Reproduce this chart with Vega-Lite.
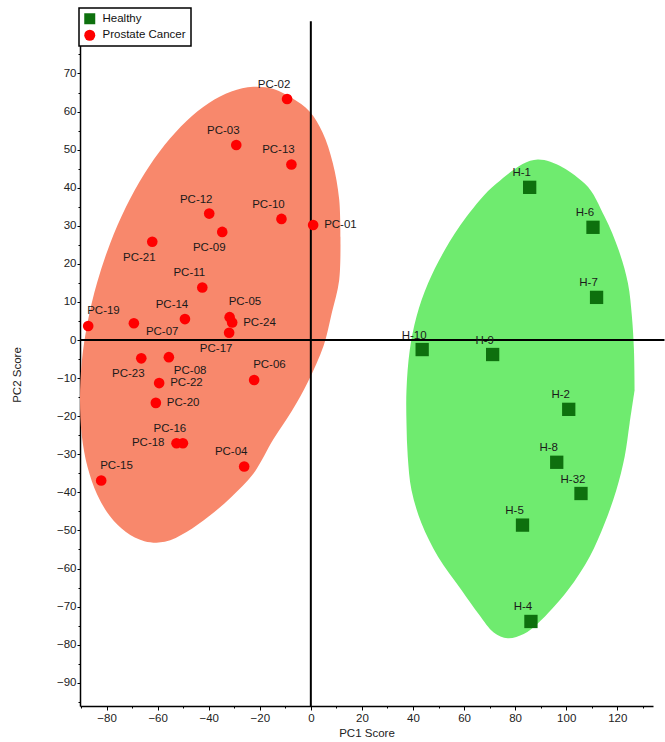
{
  "$schema": "https://vega.github.io/schema/vega-lite/v6.json",
  "width": 573,
  "height": 663,
  "autosize": {"type": "none"},
  "padding": {"left": 80, "top": 43, "right": 12, "bottom": 36},
  "background": "white",
  "config": {
    "view": {"stroke": null},
    "font": "Liberation Sans",
    "axis": {
      "grid": false,
      "domainColor": "#000000",
      "domainWidth": 1.5,
      "tickColor": "#000000",
      "tickWidth": 1,
      "labelFont": "Liberation Sans",
      "labelFontSize": 11.5,
      "labelColor": "#222222",
      "titleFont": "Liberation Sans",
      "titleFontSize": 11.5,
      "titleFontWeight": "normal",
      "titleColor": "#222222"
    },
    "legend": {
      "strokeColor": "#000000",
      "strokeWidth": 1.5,
      "fillColor": "#ffffff",
      "padding": 5,
      "labelFont": "Liberation Sans",
      "labelFontSize": 11.5,
      "labelColor": "#111111",
      "symbolSize": 121,
      "symbolStrokeWidth": 0,
      "symbolOpacity": 1,
      "rowPadding": 3.5,
      "labelOffset": 7
    }
  },
  "datasets": {
    "pts": [
      {"id": "PC-01", "grp": "Prostate Cancer", "pc1": 0.9, "pc2": 30.2, "lab": "r"},
      {"id": "PC-02", "grp": "Prostate Cancer", "pc1": -9.3, "pc2": 63.3, "lab": "al"},
      {"id": "PC-03", "grp": "Prostate Cancer", "pc1": -29.2, "pc2": 51.2, "lab": "al"},
      {"id": "PC-04", "grp": "Prostate Cancer", "pc1": -26.1, "pc2": -33.2, "lab": "al"},
      {"id": "PC-05", "grp": "Prostate Cancer", "pc1": -31.8, "pc2": 6.0, "lab": "ar"},
      {"id": "PC-06", "grp": "Prostate Cancer", "pc1": -22.2, "pc2": -10.5, "lab": "ar"},
      {"id": "PC-07", "grp": "Prostate Cancer", "pc1": -69.3, "pc2": 4.4, "lab": "br"},
      {"id": "PC-08", "grp": "Prostate Cancer", "pc1": -55.6, "pc2": -4.5, "lab": "b"},
      {"id": "PC-09", "grp": "Prostate Cancer", "pc1": -34.7, "pc2": 28.4, "lab": "bl"},
      {"id": "PC-10", "grp": "Prostate Cancer", "pc1": -11.5, "pc2": 31.8, "lab": "al"},
      {"id": "PC-11", "grp": "Prostate Cancer", "pc1": -42.5, "pc2": 13.8, "lab": "al"},
      {"id": "PC-12", "grp": "Prostate Cancer", "pc1": -39.8, "pc2": 33.2, "lab": "al"},
      {"id": "PC-13", "grp": "Prostate Cancer", "pc1": -7.6, "pc2": 46.1, "lab": "al"},
      {"id": "PC-14", "grp": "Prostate Cancer", "pc1": -49.3, "pc2": 5.5, "lab": "al"},
      {"id": "PC-15", "grp": "Prostate Cancer", "pc1": -82.1, "pc2": -36.9, "lab": "ar"},
      {"id": "PC-16", "grp": "Prostate Cancer", "pc1": -50.1, "pc2": -27.1, "lab": "al"},
      {"id": "PC-17", "grp": "Prostate Cancer", "pc1": -32.0, "pc2": 1.9, "lab": "bl"},
      {"id": "PC-18", "grp": "Prostate Cancer", "pc1": -52.6, "pc2": -27.1, "lab": "l"},
      {"id": "PC-19", "grp": "Prostate Cancer", "pc1": -87.2, "pc2": 3.7, "lab": "ar"},
      {"id": "PC-20", "grp": "Prostate Cancer", "pc1": -60.7, "pc2": -16.5, "lab": "r"},
      {"id": "PC-21", "grp": "Prostate Cancer", "pc1": -62.1, "pc2": 25.8, "lab": "bl"},
      {"id": "PC-22", "grp": "Prostate Cancer", "pc1": -59.4, "pc2": -11.3, "lab": "r"},
      {"id": "PC-23", "grp": "Prostate Cancer", "pc1": -66.4, "pc2": -4.8, "lab": "bl"},
      {"id": "PC-24", "grp": "Prostate Cancer", "pc1": -30.8, "pc2": 4.6, "lab": "r"},
      {"id": "H-1", "grp": "Healthy", "pc1": 85.7, "pc2": 40.1, "lab": "ah"},
      {"id": "H-6", "grp": "Healthy", "pc1": 110.5, "pc2": 29.6, "lab": "ah"},
      {"id": "H-7", "grp": "Healthy", "pc1": 111.9, "pc2": 11.2, "lab": "ah"},
      {"id": "H-10", "grp": "Healthy", "pc1": 43.6, "pc2": -2.5, "lab": "ah"},
      {"id": "H-9", "grp": "Healthy", "pc1": 71.2, "pc2": -3.8, "lab": "ah"},
      {"id": "H-2", "grp": "Healthy", "pc1": 101.0, "pc2": -18.2, "lab": "ah"},
      {"id": "H-8", "grp": "Healthy", "pc1": 96.3, "pc2": -32.1, "lab": "ah"},
      {"id": "H-32", "grp": "Healthy", "pc1": 105.8, "pc2": -40.3, "lab": "ah"},
      {"id": "H-5", "grp": "Healthy", "pc1": 82.9, "pc2": -48.6, "lab": "ah"},
      {"id": "H-4", "grp": "Healthy", "pc1": 86.2, "pc2": -73.9, "lab": "ah"}
    ],
    "ell": [
      {"grp": "PC", "ord": 1, "pc1": 11.6, "pc2": 27.0},
      {"grp": "PC", "ord": 2, "pc1": 11.1, "pc2": 37.0},
      {"grp": "PC", "ord": 3, "pc1": 8.6, "pc2": 46.5},
      {"grp": "PC", "ord": 4, "pc1": 4.6, "pc2": 54.5},
      {"grp": "PC", "ord": 5, "pc1": -0.5, "pc2": 60.0},
      {"grp": "PC", "ord": 6, "pc1": -7.39, "pc2": 63.54},
      {"grp": "PC", "ord": 7, "pc1": -14.61, "pc2": 65.93},
      {"grp": "PC", "ord": 8, "pc1": -22.6, "pc2": 66.52},
      {"grp": "PC", "ord": 9, "pc1": -31.12, "pc2": 65.28},
      {"grp": "PC", "ord": 10, "pc1": -39.9, "pc2": 62.26},
      {"grp": "PC", "ord": 11, "pc1": -48.68, "pc2": 57.54},
      {"grp": "PC", "ord": 12, "pc1": -57.2, "pc2": 51.28},
      {"grp": "PC", "ord": 13, "pc1": -65.19, "pc2": 43.67},
      {"grp": "PC", "ord": 14, "pc1": -72.41, "pc2": 34.92},
      {"grp": "PC", "ord": 15, "pc1": -78.64, "pc2": 25.3},
      {"grp": "PC", "ord": 16, "pc1": -83.69, "pc2": 15.13},
      {"grp": "PC", "ord": 17, "pc1": -87.42, "pc2": 4.69},
      {"grp": "PC", "ord": 18, "pc1": -89.7, "pc2": -5.7},
      {"grp": "PC", "ord": 19, "pc1": -90.4, "pc2": -15.71},
      {"grp": "PC", "ord": 20, "pc1": -89.7, "pc2": -25.04},
      {"grp": "PC", "ord": 21, "pc1": -87.42, "pc2": -33.41},
      {"grp": "PC", "ord": 22, "pc1": -83.69, "pc2": -40.57},
      {"grp": "PC", "ord": 23, "pc1": -78.64, "pc2": -46.3},
      {"grp": "PC", "ord": 24, "pc1": -72.41, "pc2": -50.42},
      {"grp": "PC", "ord": 25, "pc1": -65.19, "pc2": -52.81},
      {"grp": "PC", "ord": 26, "pc1": -57.2, "pc2": -53.0},
      {"grp": "PC", "ord": 27, "pc1": -48.68, "pc2": -50.4},
      {"grp": "PC", "ord": 28, "pc1": -39.9, "pc2": -46.3},
      {"grp": "PC", "ord": 29, "pc1": -31.12, "pc2": -41.2},
      {"grp": "PC", "ord": 30, "pc1": -22.6, "pc2": -35.2},
      {"grp": "PC", "ord": 31, "pc1": -14.61, "pc2": -26.0},
      {"grp": "PC", "ord": 32, "pc1": -7.39, "pc2": -18.6},
      {"grp": "PC", "ord": 33, "pc1": -1.16, "pc2": -11.0},
      {"grp": "PC", "ord": 34, "pc1": 5.0, "pc2": -1.5},
      {"grp": "PC", "ord": 35, "pc1": 8.2, "pc2": 7.1},
      {"grp": "PC", "ord": 36, "pc1": 11.1, "pc2": 15.7},
      {"grp": "PC", "ord": 37, "pc1": 11.6, "pc2": 27.0},
      {"grp": "H", "ord": 1, "pc1": 126.81, "pc2": -13.12},
      {"grp": "H", "ord": 2, "pc1": 126.54, "pc2": -2.62},
      {"grp": "H", "ord": 3, "pc1": 125.75, "pc2": 6.12},
      {"grp": "H", "ord": 4, "pc1": 124.19, "pc2": 14.88},
      {"grp": "H", "ord": 5, "pc1": 120.55, "pc2": 23.62},
      {"grp": "H", "ord": 6, "pc1": 115.07, "pc2": 32.36},
      {"grp": "H", "ord": 7, "pc1": 107.24, "pc2": 41.13},
      {"grp": "H", "ord": 8, "pc1": 88.85, "pc2": 47.43},
      {"grp": "H", "ord": 9, "pc1": 72.68, "pc2": 41.13},
      {"grp": "H", "ord": 10, "pc1": 60.94, "pc2": 32.36},
      {"grp": "H", "ord": 11, "pc1": 52.45, "pc2": 23.62},
      {"grp": "H", "ord": 12, "pc1": 45.91, "pc2": 14.88},
      {"grp": "H", "ord": 13, "pc1": 41.37, "pc2": 6.12},
      {"grp": "H", "ord": 14, "pc1": 38.75, "pc2": -2.62},
      {"grp": "H", "ord": 15, "pc1": 37.46, "pc2": -13.12},
      {"grp": "H", "ord": 16, "pc1": 37.46, "pc2": -21.86},
      {"grp": "H", "ord": 17, "pc1": 37.96, "pc2": -30.63},
      {"grp": "H", "ord": 18, "pc1": 39.41, "pc2": -39.37},
      {"grp": "H", "ord": 19, "pc1": 43.33, "pc2": -48.11},
      {"grp": "H", "ord": 20, "pc1": 49.82, "pc2": -56.88},
      {"grp": "H", "ord": 21, "pc1": 58.98, "pc2": -65.62},
      {"grp": "H", "ord": 22, "pc1": 66.0, "pc2": -72.2},
      {"grp": "H", "ord": 23, "pc1": 71.62, "pc2": -76.77},
      {"grp": "H", "ord": 24, "pc1": 77.1, "pc2": -78.29},
      {"grp": "H", "ord": 25, "pc1": 83.37, "pc2": -77.17},
      {"grp": "H", "ord": 26, "pc1": 88.96, "pc2": -74.36},
      {"grp": "H", "ord": 27, "pc1": 100.7, "pc2": -65.62},
      {"grp": "H", "ord": 28, "pc1": 109.2, "pc2": -56.88},
      {"grp": "H", "ord": 29, "pc1": 115.07, "pc2": -48.11},
      {"grp": "H", "ord": 30, "pc1": 119.65, "pc2": -39.37},
      {"grp": "H", "ord": 31, "pc1": 122.9, "pc2": -30.63},
      {"grp": "H", "ord": 32, "pc1": 124.85, "pc2": -21.86},
      {"grp": "H", "ord": 33, "pc1": 126.81, "pc2": -13.12}
    ],
    "vref": [{"pc1": 0, "pc2": -96.1, "pc2b": 83.7}],
    "href": [{"pc1": -90.4, "pc1b": 138.5, "pc2": 0}]
  },
  "encoding": {
    "x": {"field": "pc1", "type": "quantitative", "scale": {"domain": [-90.4, 134], "nice": false, "zero": false},
      "axis": {"title": "PC1 Score", "values": [-90, -80, -70, -60, -50, -40, -30, -20, -10, 0, 10, 20, 30, 40, 50, 60, 70, 80, 90, 100, 110, 120, 130],
        "labelExpr": "datum.value % 20 === 0 ? datum.label : ''",
        "tickSize": {"condition": {"test": "datum.value % 20 !== 0", "value": 2}, "value": 4},
        "labelPadding": 2, "titlePadding": 4}},
    "y": {"field": "pc2", "type": "quantitative", "scale": {"domain": [-96.1, 78], "nice": false, "zero": false},
      "axis": {"title": "PC2 Score", "values": [-95, -90, -85, -80, -75, -70, -65, -60, -55, -50, -45, -40, -35, -30, -25, -20, -15, -10, -5, 0, 5, 10, 15, 20, 25, 30, 35, 40, 45, 50, 55, 60, 65, 70, 75],
        "labelExpr": "datum.value % 10 === 0 ? datum.label : ''",
        "tickSize": {"condition": {"test": "datum.value % 10 !== 0", "value": 2}, "value": 3},
        "labelPadding": 1, "titlePadding": 34}}
  },
  "layer": [
    {
      "data": {"name": "ell"},
      "transform": [{"filter": "datum.grp === 'PC'"}],
      "mark": {"type": "line", "interpolate": "catmull-rom", "filled": true, "fill": "#F8886C", "strokeWidth": 0, "opacity": 1},
      "encoding": {"order": {"field": "ord", "type": "quantitative"}}
    },
    {
      "data": {"name": "ell"},
      "transform": [{"filter": "datum.grp === 'H'"}],
      "mark": {"type": "line", "interpolate": "catmull-rom", "filled": true, "fill": "#6FEB6F", "strokeWidth": 0, "opacity": 1},
      "encoding": {"order": {"field": "ord", "type": "quantitative"}}
    },
    {
      "data": {"name": "vref"},
      "mark": {"type": "rule", "color": "#000000", "strokeWidth": 2, "clip": false},
      "encoding": {"y2": {"field": "pc2b"}}
    },
    {
      "data": {"name": "href"},
      "mark": {"type": "rule", "color": "#000000", "strokeWidth": 2, "clip": false},
      "encoding": {"x2": {"field": "pc1b"}}
    },
    {
      "data": {"name": "pts"},
      "transform": [{"filter": "datum.grp === 'Healthy'"}],
      "mark": {"type": "point", "filled": true, "opacity": 1, "strokeWidth": 0, "size": 177},
      "encoding": {
        "color": {"field": "grp", "type": "nominal", "scale": {"domain": ["Healthy", "Prostate Cancer"], "range": ["#0E700E", "#FF0000"]},
          "legend": {"orient": "none", "legendX": -1, "legendY": -35, "title": null, "direction": "vertical"}},
        "shape": {"field": "grp", "type": "nominal", "scale": {"domain": ["Healthy", "Prostate Cancer"], "range": ["square", "circle"]},
          "legend": {"orient": "none", "legendX": -1, "legendY": -35, "title": null, "direction": "vertical"}}
      }
    },
    {
      "data": {"name": "pts"},
      "transform": [{"filter": "datum.grp === 'Prostate Cancer'"}],
      "mark": {"type": "point", "filled": true, "opacity": 1, "strokeWidth": 0, "size": 113},
      "encoding": {
        "color": {"field": "grp", "type": "nominal"},
        "shape": {"field": "grp", "type": "nominal"}
      }
    },
    {
      "data": {"name": "pts"},
      "transform": [{"filter": "datum.lab === 'al'"}],
      "mark": {"type": "text", "align": "center", "baseline": "middle", "dx": -13, "dy": -14, "fontSize": 11.5, "color": "#1a1a1a"},
      "encoding": {"text": {"field": "id"}}
    },
    {
      "data": {"name": "pts"},
      "transform": [{"filter": "datum.lab === 'ah'"}],
      "mark": {"type": "text", "align": "center", "baseline": "middle", "dx": -8, "dy": -14, "fontSize": 11.5, "color": "#1a1a1a"},
      "encoding": {"text": {"field": "id"}}
    },
    {
      "data": {"name": "pts"},
      "transform": [{"filter": "datum.lab === 'bl'"}],
      "mark": {"type": "text", "align": "center", "baseline": "middle", "dx": -13, "dy": 16, "fontSize": 11.5, "color": "#1a1a1a"},
      "encoding": {"text": {"field": "id"}}
    },
    {
      "data": {"name": "pts"},
      "transform": [{"filter": "datum.lab === 'r'"}],
      "mark": {"type": "text", "align": "left", "baseline": "middle", "dx": 11, "dy": 0, "fontSize": 11.5, "color": "#1a1a1a"},
      "encoding": {"text": {"field": "id"}}
    },
    {
      "data": {"name": "pts"},
      "transform": [{"filter": "datum.lab === 'ar'"}],
      "mark": {"type": "text", "align": "left", "baseline": "middle", "dx": -1, "dy": -15, "fontSize": 11.5, "color": "#1a1a1a"},
      "encoding": {"text": {"field": "id"}}
    },
    {
      "data": {"name": "pts"},
      "transform": [{"filter": "datum.lab === 'br'"}],
      "mark": {"type": "text", "align": "left", "baseline": "middle", "dx": 12, "dy": 9, "fontSize": 11.5, "color": "#1a1a1a"},
      "encoding": {"text": {"field": "id"}}
    },
    {
      "data": {"name": "pts"},
      "transform": [{"filter": "datum.lab === 'b'"}],
      "mark": {"type": "text", "align": "left", "baseline": "middle", "dx": 5, "dy": 14, "fontSize": 11.5, "color": "#1a1a1a"},
      "encoding": {"text": {"field": "id"}}
    },
    {
      "data": {"name": "pts"},
      "transform": [{"filter": "datum.lab === 'l'"}],
      "mark": {"type": "text", "align": "right", "baseline": "middle", "dx": -12, "dy": 0, "fontSize": 11.5, "color": "#1a1a1a"},
      "encoding": {"text": {"field": "id"}}
    }
  ]
}
